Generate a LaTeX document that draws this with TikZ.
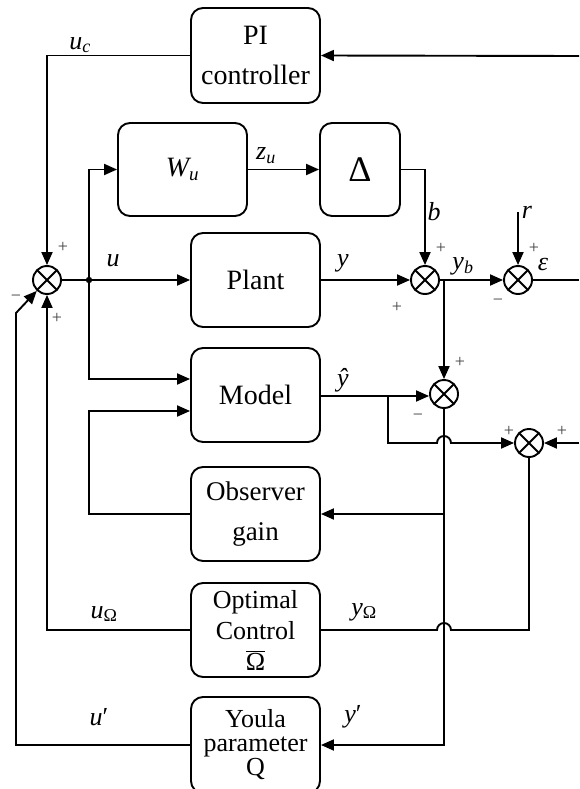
\documentclass[tikz,border=0pt]{standalone}
\usepackage{fontspec}
\setmainfont{Liberation Serif}
\usetikzlibrary{arrows.meta}
\begin{document}
\begin{tikzpicture}[x=1pt,y=-1pt,line width=1.9pt,
  >={Triangle[length=13pt,width=11pt]},
  blk/.style={draw,rounded corners=12pt,minimum width=129pt,inner sep=0pt,align=center,font=\fontsize{27}{40}\selectfont},
  sumnode/.style={draw,circle,minimum size=28pt,inner sep=0pt,
    path picture={\draw[line width=1.9pt] (path picture bounding box.center) +(45:14pt) -- +(225:14pt)
      (path picture bounding box.center) +(135:14pt) -- +(315:14pt);}},
  lbl/.style={font=\fontsize{26}{26}\selectfont\itshape,inner sep=0pt},
  sgn/.style={font=\fontsize{18}{18}\selectfont,inner sep=0pt,text=black!75}]
\useasboundingbox (0,0) rectangle (579,789);
\clip (0,0) rectangle (579,789);
% blocks
\node[blk,minimum height=95pt,font=\fontsize{28}{40}\selectfont] (PI) at (255.5,55.5) {PI\\controller};
\node[blk,minimum height=93pt] (Wu) at (182.5,169.5) {\itshape\fontsize{28}{30}\selectfont W\textsubscript{\fontsize{19}{19}\selectfont u}};
\node[blk,minimum width=80pt,minimum height=93pt,font=\fontsize{36}{38}\selectfont] (D) at (360,169.5) {Δ};
\node[blk,minimum height=94pt,font=\fontsize{28}{40}\selectfont] (Plant) at (255.5,280) {Plant};
\node[blk,minimum height=94pt,font=\fontsize{28}{40}\selectfont] (Model) at (255.5,395) {Model};
\node[blk,minimum height=94pt] (Obs) at (255.5,514) {Observer\\gain};
\node[blk,minimum height=94pt,font=\fontsize{26}{31}\selectfont] (Opt) at (255.5,630) {Optimal\\Control\\$\overline{\mbox{Ω}}$};
\node[blk,minimum height=96pt,font=\fontsize{26}{24}\selectfont] (You) at (255.5,745) {Youla\\parameter\\Q};
% summing junctions
\node[sumnode] (s1) at (47,280) {};
\node[sumnode] (s2) at (425,280) {};
\node[sumnode] (s3) at (518,280) {};
\node[sumnode] (s4) at (444,394) {};
\node[sumnode] (s5) at (529,443) {};
% helper coordinates
\coordinate (piin) at (579,56);
\coordinate (epsout) at (579,280);
\coordinate (rin) at (518,212);
\coordinate (s5in) at (579,443);
\coordinate (br) at (89,280);
\coordinate (yb) at (444,280);
\coordinate (yh) at (388,396);
\coordinate (yq) at (16,313);
% connectors
\draw[->] (piin) -- (PI.east);
\draw[->] (PI.west) -| (s1.north);
\draw[->] (s1.east) -- (Plant.west);
\draw[->] (br) |- (Wu.west);
\draw[->] (br) |- ([yshift=16pt]Model.west);
\fill (br) circle (3.2pt);
\draw[->] (Wu.east) -- (D.west);
\draw[->] (D.east) -| (s2.north);
\draw[->] (Plant.east) -- (s2.west);
\draw[->] (s2.east) -- (s3.west);
\draw[->] (rin) -- (s3.north);
\draw (s3.east) -- (epsout);
\draw[->] (yb) -- (s4.north);
\draw[->] (Model.east |- yh) -- (s4.west |- yh);
\draw[->] (yh) -- (388,443) -- (437,443) arc[start angle=180,end angle=0,radius=7pt] -- (s5.west);
\draw[->] (s5in) -- (s5.east);
\draw[->] (s4.south) -- (s4.south |- You.east) -- (You.east);
\draw[->] (s4.south |- Obs.east) -- (Obs.east);
\draw (s5.south) -- (529,630) -- (451,630) arc[start angle=0,end angle=180,radius=7pt] -- (Opt.east);
\draw[->] (Opt.west) -| (s1.south);
\draw[->] (You.west) -| (yq) -- (s1);
\draw[->] (Obs.west) -- (Obs.west -| br) |- ([yshift=-16pt]Model.west);
% signal labels
\node[lbl] (luc) at (80,45) {u\textsubscript{\fontsize{18}{18}\selectfont c}};
\node[lbl] (lzu) at (266,156) {z\textsubscript{\fontsize{18}{18}\selectfont u}};
\node[lbl] (lb) at (434,212) {b};
\node[lbl] (lu) at (113,261) {u};
\node[lbl] (ly) at (343,263) {y};
\node[lbl] (lyb) at (463,266) {y\textsubscript{\fontsize{18}{18}\selectfont b}};
\node[lbl] (lr) at (527,212) {r};
\node[lbl] (leps) at (543,264) {ε};
\node[lbl] (lyh) at (343,380) {ŷ};
\node[lbl] (luO) at (104,614) {u\textsubscript{\upshape\fontsize{18}{18}\selectfont Ω}};
\node[lbl] (lyO) at (364,612) {y\textsubscript{\upshape\fontsize{18}{18}\selectfont Ω}};
\node[lbl] (lup) at (99,717) {u\upshape′};
\node[lbl] (lyp) at (353,717) {y\upshape′};
% signs
\node[sgn] at (63,247) {+};
\node[sgn] at (16,298) {−};
\node[sgn] at (57,318) {+};
\node[sgn] at (441,248) {+};
\node[sgn] at (397,307) {+};
\node[sgn] at (534,248) {+};
\node[sgn] at (498,302) {−};
\node[sgn] at (460,362) {+};
\node[sgn] at (418,417) {−};
\node[sgn] at (509,431) {+};
\node[sgn] at (562,431) {+};
\end{tikzpicture}
\end{document}
